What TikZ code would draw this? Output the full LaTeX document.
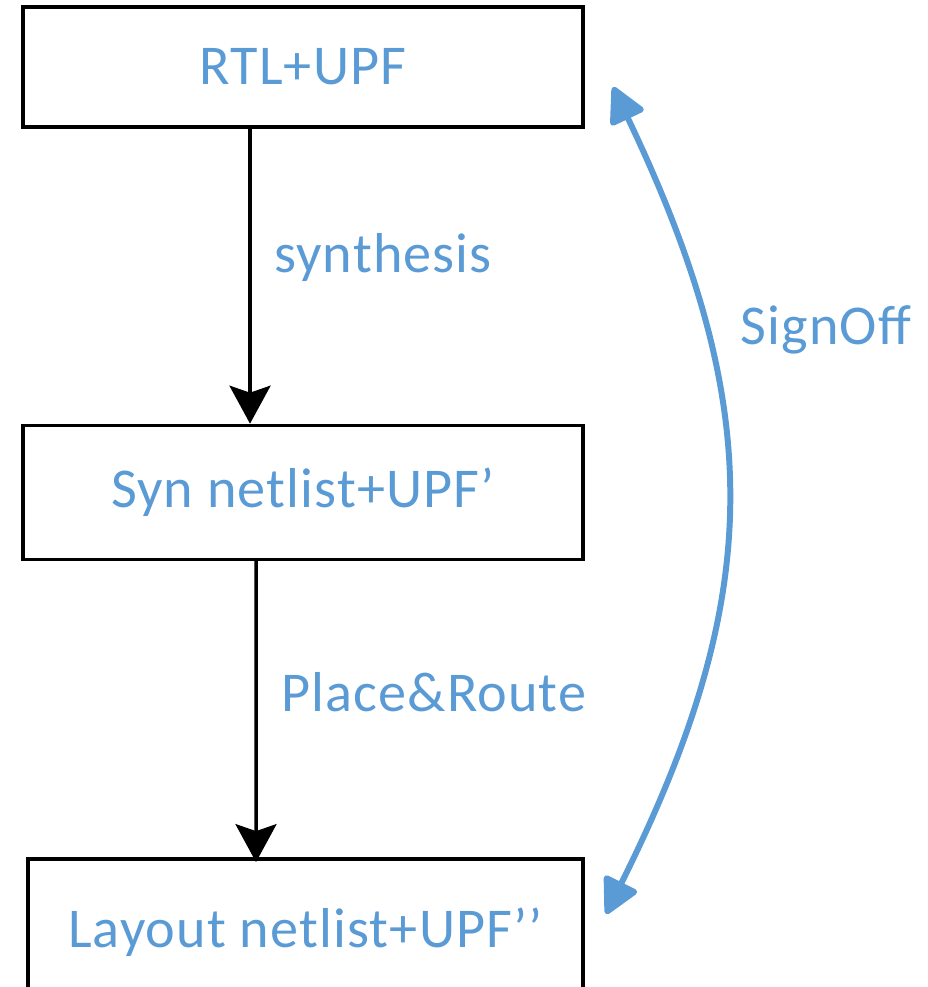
\documentclass[tikz,border=0pt]{standalone}
\usepackage{fontspec}
\setmainfont[LetterSpace=2]{Carlito}
\usetikzlibrary{arrows.meta,positioning}
\definecolor{offblue}{HTML}{5B9BD5}

\begin{document}
\begin{tikzpicture}[x=0.02cm, y=-0.02cm, >={Stealth[length=0.76cm, width=0.82cm, inset=0.14cm]}]
	\tikzset{box/.style = {draw, line width=2pt, minimum width=11.2cm, inner sep=0pt,
	    font=\fontsize{32}{38}\selectfont, text=offblue}}
	\tikzset{lbl/.style = {font=\fontsize{32}{38}\selectfont, text=offblue, inner sep=0pt}}
	\tikzset{flow/.style = {->, line width=2pt}}
	\tikzset{signoff/.style = {{Triangle[length=0.78cm, width=0.78cm, round]}-{Triangle[length=0.78cm, width=0.78cm, round]},
	    line width=3.4pt, draw=offblue}}
	\clip (0,0) rectangle (928,987);
	% the three stages
	\node[box, minimum height=2.4cm] (rtl) at (303,67) {RTL+UPF};
	\node[box, minimum height=2.68cm, below=5.9cm of rtl] (syn) {Syn netlist+UPF’};
	\node[box, minimum width=11.1cm, minimum height=2.92cm, below=5.92cm of syn, xshift=0.05cm] (lay) {Layout netlist+UPF’’};
	% flow arrows
	\draw[flow] ([xshift=-1.06cm]rtl.south) -- ([xshift=-1.06cm]syn.north);
	\draw[flow, shorten >=-0.1cm] ([xshift=-0.94cm]syn.south) -- ([xshift=-0.99cm]lay.north);
	\node[lbl, anchor=west] (synth) at (274,258) {synthesis};
	\node[lbl, anchor=west] (pnr) at (281,692) {Place\&Route};
	% signoff loop
	\coordinate (top) at (613,87);
	\coordinate (bot) at (606,914);
	\draw[signoff] (top) to[bend left=26, looseness=1.1] (bot);
	\node[lbl] (sign) at (826,330) {SignOff};
\end{tikzpicture}
\end{document}
